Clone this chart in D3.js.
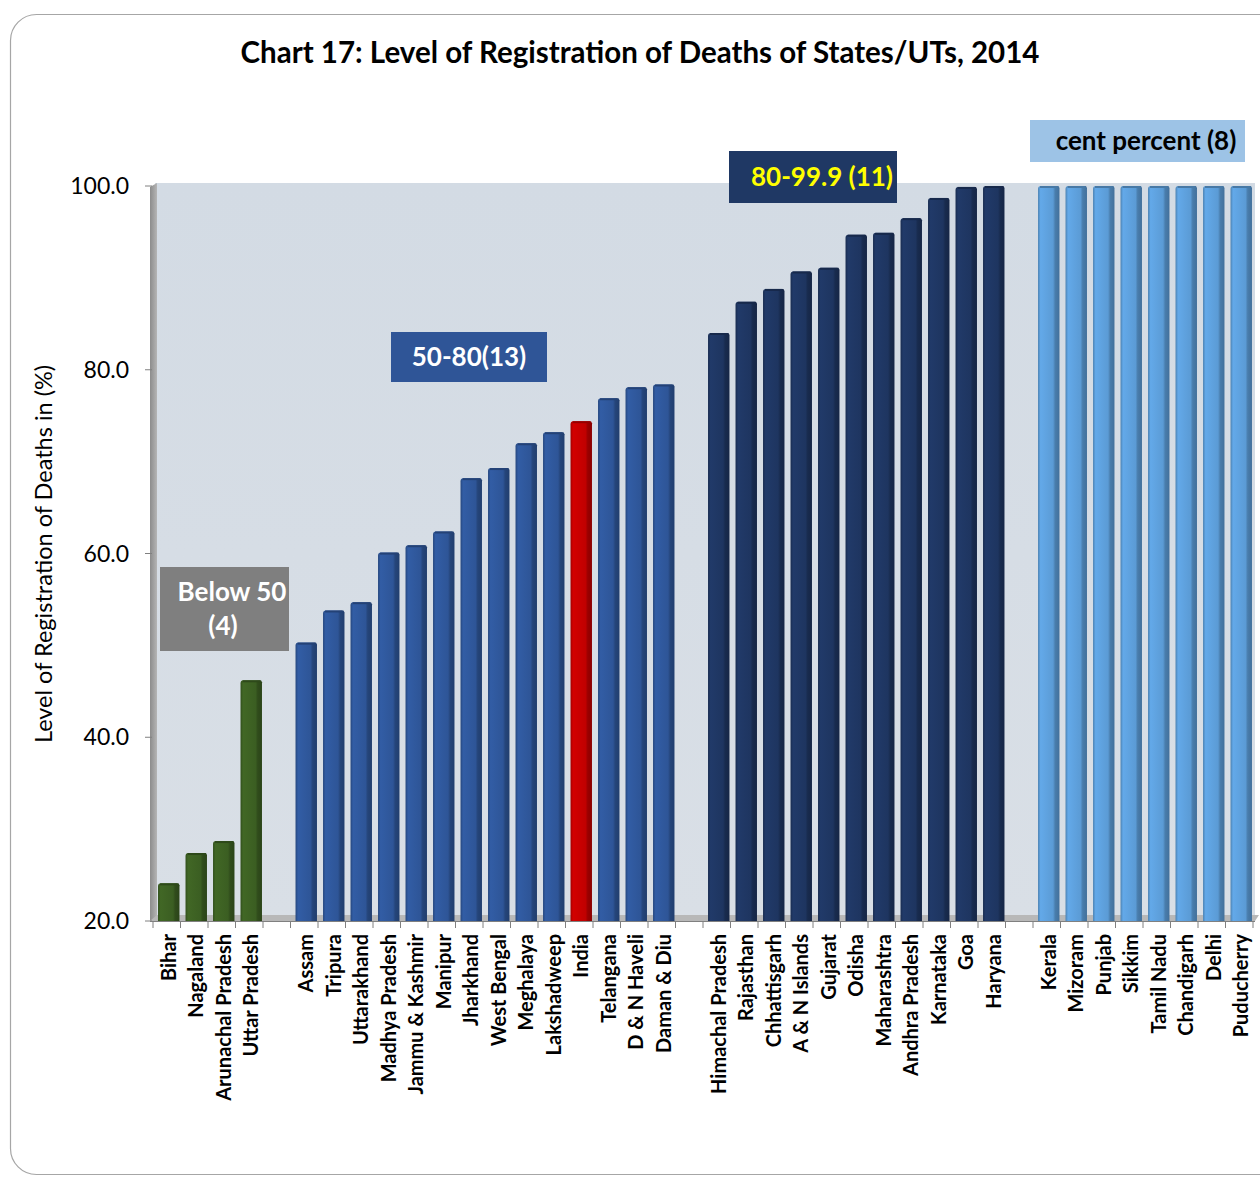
<!DOCTYPE html>
<html>
<head>
<meta charset="utf-8">
<script src="https://cdn.jsdelivr.net/npm/d3@7"></script>
<style>
  body { margin: 0; background: #fff; }
  svg { display: block; font-family: Lato, "Open Sans", sans-serif; }
</style>
</head>
<body>
<svg id="chart" width="1260" height="1180"></svg>
<script>
// groups of states, in order of the chart
var below50 = ['Bihar', 'Nagaland', 'Arunachal Pradesh', 'Uttar Pradesh'];
var below50Values = [24.1, 27.4, 28.7, 46.2];

var mid = ['Assam', 'Tripura', 'Uttarakhand', 'Madhya Pradesh', 'Jammu & Kashmir', 'Manipur',
  'Jharkhand', 'West Bengal', 'Meghalaya', 'Lakshadweep', 'India', 'Telangana', 'D & N Haveli', 'Daman & Diu'];
var midValues = [50.3, 53.8, 54.7, 60.1, 60.9, 62.4, 68.2, 69.3, 72.0, 73.2, 74.4, 76.9, 78.1, 78.4];

var high = ['Himachal Pradesh', 'Rajasthan', 'Chhattisgarh', 'A & N Islands', 'Gujarat', 'Odisha',
  'Maharashtra', 'Andhra Pradesh', 'Karnataka', 'Goa', 'Haryana'];
var highValues = [84.0, 87.4, 88.8, 90.7, 91.1, 94.7, 94.9, 96.5, 98.7, 99.9, 100.0];

var cent = ['Kerala', 'Mizoram', 'Punjab', 'Sikkim', 'Tamil Nadu', 'Chandigarh', 'Delhi', 'Puducherry'];
var centValues = [100, 100, 100, 100, 100, 100, 100, 100];

var yTicks = [20, 40, 60, 80, 100];

var svg = d3.select('#chart');

var colors = {
  below: '#3b5e22',
  mid: '#2e5597',
  india: '#c00000',
  high: '#1e3560',
  cent: '#5b9bd5'
};

// build the bar list, with blank slots between groups
var bars = [];
function addGroup(names, values, key) {
  names.forEach(function (n, i) {
    bars.push({ name: n, value: values[i], group: key === 'mid' && n === 'India' ? 'india' : key });
  });
}
addGroup(below50, below50Values, 'below');
bars.push({ name: 'gap1', gap: true });
addGroup(mid, midValues, 'mid');
bars.push({ name: 'gap2', gap: true });
addGroup(high, highValues, 'high');
bars.push({ name: 'gap3', gap: true });
addGroup(cent, centValues, 'cent');

var x = d3.scaleBand()
  .domain(bars.map(function (d) { return d.name; }))
  .range([155, 1255])
  .paddingInner(0.22)
  .paddingOuter(0.11);

var y = d3.scaleLinear().domain([20, 100]).range([921, 186]);

// outer frame
svg.append('rect')
  .attr('x', 10.5).attr('y', 14.5)
  .attr('width', 1280).attr('height', 1160)
  .attr('rx', 26).attr('ry', 26)
  .attr('fill', '#fff')
  .attr('stroke', '#a6a6a6')
  .attr('stroke-width', 1.2);

svg.append('text')
  .attr('x', 640).attr('y', 63)
  .attr('text-anchor', 'middle')
  .attr('font-size', 29.5).attr('font-weight', 'bold')
  .text('Chart 17: Level of Registration of Deaths of States/UTs, 2014');

var defs = svg.append('defs');

var bg = defs.append('linearGradient').attr('id', 'bg').attr('x1', 0).attr('y1', 0).attr('x2', 0).attr('y2', 1);
bg.append('stop').attr('offset', 0).attr('stop-color', '#d3dbe4');
bg.append('stop').attr('offset', 1).attr('stop-color', '#d9dfe6');

// plot background
svg.append('rect')
  .attr('x', 155).attr('y', 183)
  .attr('width', 1100).attr('height', 738)
  .attr('fill', 'url(#bg)');

// left wall
var wall = defs.append('linearGradient').attr('id', 'wall').attr('x1', 0).attr('x2', 1);
wall.append('stop').attr('offset', 0).attr('stop-color', '#8c8c8c');
wall.append('stop').attr('offset', 1).attr('stop-color', '#b5b5b5');
svg.append('path')
  .attr('d', 'M150,187 L157,183 L157,917 L150,921 Z')
  .attr('fill', 'url(#wall)');

// floor
svg.append('path')
  .attr('d', 'M150,921 L157,915 L1259,915 L1255,921 Z')
  .attr('fill', '#b8b8b8');

// bar gradients
Object.keys(colors).forEach(function (k) {
  var c = d3.rgb(colors[k]);
  var g = defs.append('linearGradient').attr('id', 'g-' + k).attr('x1', 0).attr('x2', 1);
  g.append('stop').attr('offset', 0).attr('stop-color', c.darker(0.5));
  g.append('stop').attr('offset', 0.12).attr('stop-color', c.brighter(0.25));
  g.append('stop').attr('offset', 0.7).attr('stop-color', c);
  g.append('stop').attr('offset', 0.8).attr('stop-color', c.darker(0.6));
  g.append('stop').attr('offset', 1).attr('stop-color', c.darker(0.9));
});

var realBars = bars.filter(function (d) { return !d.gap; });

var bw = x.bandwidth();
var barG = svg.append('g').selectAll('g')
  .data(realBars)
  .enter().append('g');

barG.append('path')
  .attr('d', function (d) {
    var x0 = x(d.name), yt = y(d.value), yb = 921;
    return 'M' + x0 + ',' + yb + ' L' + x0 + ',' + (yt + 3) +
      ' Q' + x0 + ',' + yt + ' ' + (x0 + 3) + ',' + yt +
      ' L' + (x0 + bw - 1) + ',' + yt +
      ' L' + (x0 + bw) + ',' + (yt + 2) +
      ' L' + (x0 + bw) + ',' + yb + ' Z';
  })
  .attr('fill', function (d) { return 'url(#g-' + d.group + ')'; });

// top edge
barG.append('rect')
  .attr('x', function (d) { return x(d.name) + 2; })
  .attr('y', function (d) { return y(d.value); })
  .attr('width', bw - 4)
  .attr('height', 2)
  .attr('fill', function (d) { return d3.rgb(colors[d.group]).darker(0.7); });

// y axis
var yAxis = svg.append('g');
yAxis.selectAll('line')
  .data(yTicks)
  .enter().append('line')
  .attr('x1', 145).attr('x2', 152)
  .attr('y1', function (d) { return y(d); })
  .attr('y2', function (d) { return y(d); })
  .attr('stroke', '#808080');
yAxis.selectAll('text')
  .data(yTicks)
  .enter().append('text')
  .attr('x', 129)
  .attr('y', function (d) { return y(d); })
  .attr('dy', '0.35em')
  .attr('text-anchor', 'end')
  .attr('font-size', 23)
  .text(function (d) { return d.toFixed(1); });

svg.append('text')
  .attr('transform', 'translate(52,554) rotate(-90)')
  .attr('text-anchor', 'middle')
  .attr('font-size', 23.5)
  .text('Level of Registration of Deaths in (%)');

// x axis
svg.append('line')
  .attr('x1', 150).attr('x2', 1255)
  .attr('y1', 921.5).attr('y2', 921.5)
  .attr('stroke', '#808080');

var step = x.step();
svg.append('g').selectAll('line')
  .data(d3.range(bars.length + 1))
  .enter().append('line')
  .attr('x1', function (i) { return 153 + i * step; })
  .attr('x2', function (i) { return 153 + i * step; })
  .attr('y1', 921).attr('y2', 928)
  .attr('stroke', '#808080');

svg.append('g').selectAll('text')
  .data(realBars)
  .enter().append('text')
  .attr('transform', function (d) {
    return 'translate(' + (x(d.name) + bw / 2) + ',934) rotate(-90)';
  })
  .attr('dy', '0.35em')
  .attr('text-anchor', 'end')
  .attr('font-size', 20)
  .attr('font-weight', 'bold')
  .text(function (d) { return d.name; });

// group annotation boxes
var notes = [
  { lines: ['Below 50', '(4)'], fill: '#7f7f7f', color: '#fff', x: 160, y: 567, w: 129, h: 84, tx: 232 },
  { lines: ['50-80(13)'], fill: '#2f5597', color: '#fff', x: 391, y: 332, w: 156, h: 50, tx: 469 },
  { lines: ['80-99.9 (11)'], fill: '#1f3864', color: '#ffff00', x: 729, y: 151, w: 168, h: 52, tx: 822 },
  { lines: ['cent percent (8)'], fill: '#9dc3e6', color: '#000', x: 1030, y: 120, w: 215, h: 42, tx: 1146 }
];

var noteG = svg.append('g').selectAll('g')
  .data(notes)
  .enter().append('g');

noteG.append('rect')
  .attr('x', function (d) { return d.x; })
  .attr('y', function (d) { return d.y; })
  .attr('width', function (d) { return d.w; })
  .attr('height', function (d) { return d.h; })
  .attr('fill', function (d) { return d.fill; });

noteG.each(function (d) {
  var g = d3.select(this);
  var n = d.lines.length;
  d.lines.forEach(function (t, i) {
    g.append('text')
      .attr('x', i === 1 ? d.tx - 9 : d.tx)
      .attr('y', d.y + d.h / 2 + (i - (n - 1) / 2) * 34)
      .attr('dy', '0.35em')
      .attr('text-anchor', 'middle')
      .attr('font-size', 26)
      .attr('font-weight', 'bold')
      .attr('fill', d.color)
      .text(t);
  });
});
</script>
</body>
</html>
